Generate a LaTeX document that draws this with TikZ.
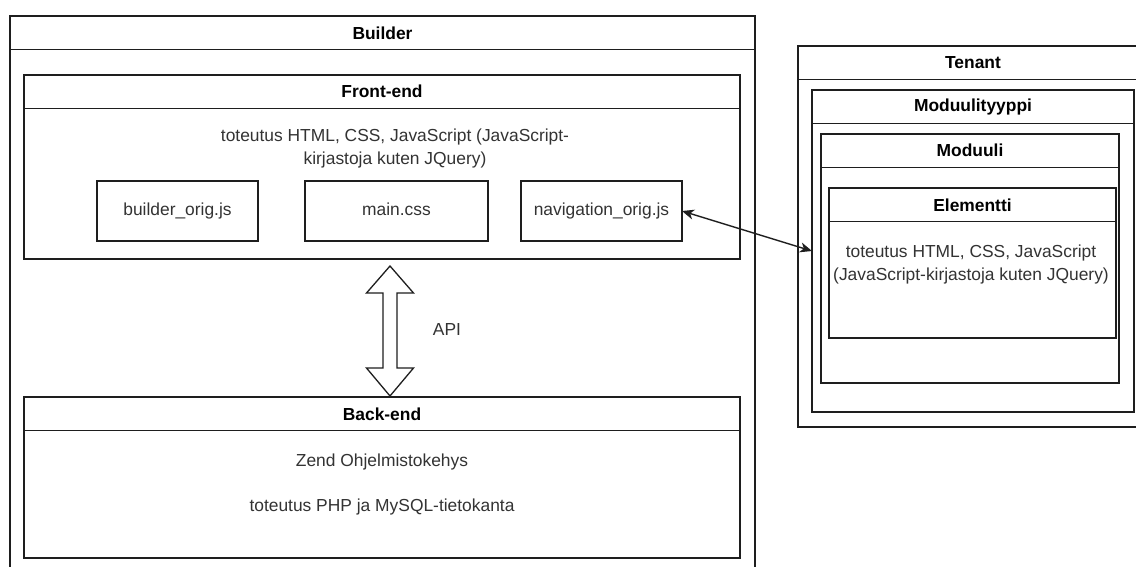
\documentclass[tikz,border=0pt]{standalone}
\usepackage{fontspec}
\setmainfont{Liberation Sans}
\usetikzlibrary{arrows.meta}
\definecolor{linec}{HTML}{1E1E1E}
\definecolor{textc}{HTML}{333333}
\tikzset{
  lane/.style={draw=linec, line width=1.3pt, fill=none, rectangle, inner sep=0pt, outer sep=0pt, anchor=north west},
  filebox/.style={draw=linec, line width=1.3pt, rectangle, inner sep=0pt, outer sep=0pt, anchor=north west, text=textc, font=\fontsize{17.4}{22}\selectfont, text height=12.6pt, text depth=3.8pt},
  lanetitle/.style={font=\fontsize{17.4}{22}\selectfont\bfseries, text=black, inner sep=0pt},
  bodytext/.style={font=\fontsize{17.4}{23}\selectfont, text=textc, align=center, inner sep=0pt},
  sep/.style={draw=linec, line width=1.3pt},
  link/.style={draw=linec, line width=1.4pt, {Stealth[length=12pt,width=10pt,inset=3.5pt]}-{Stealth[length=12pt,width=10pt,inset=3.5pt]}},
  bigarrow/.style={draw=linec, line width=1.3pt, fill=white, line join=miter}
}
\newcommand{\lanesep}[1]{\draw[sep] ([yshift=-33.5pt]#1.north west) -- ([yshift=-33.5pt]#1.north east);}
\begin{document}
\begin{tikzpicture}[x=1pt,y=-1pt]
\useasboundingbox (0,0) rectangle (1136,566);
\clip (0,0) rectangle (1136,566);
\fill[white] (0,0) rectangle (1136,566);

% Builder
\node[lane, minimum width=745pt, minimum height=580pt] (builder) at (10,16) {};
\lanesep{builder}
\node[lanetitle] (builder-t) at ([yshift=-17pt]builder.north) {Builder};

% Front-end
\node[lane, minimum width=716pt, minimum height=184pt] (fe) at (24,75) {};
\lanesep{fe}
\node[lanetitle] (fe-t) at ([yshift=-16.5pt]fe.north) {Front-end};
\node[bodytext] (fe-b) at (395,148.5) {toteutus HTML, CSS, JavaScript (JavaScript-\\kirjastoja kuten JQuery)};

\node[filebox, minimum width=161pt, minimum height=60pt] (bo) at (97,181) {builder\_orig.js};
\node[filebox, minimum width=183pt, minimum height=60pt] (mc) at (305,181) {main.css};
\node[filebox, minimum width=161pt, minimum height=60pt] (nav) at (521,181) {navigation\_orig.js};

% Back-end
\node[lane, minimum width=716pt, minimum height=161pt] (be) at (24,397) {};
\lanesep{be}
\node[lanetitle] (be-t) at ([yshift=-17pt]be.north) {Back-end};
\node[bodytext] (be-b1) at (382,462) {Zend Ohjelmistokehys};
\node[bodytext] (be-b2) at (382,507) {toteutus PHP ja MySQL-tietokanta};

% API double arrow
\draw[bigarrow] (390,266) -- (413.5,293) -- (397,293) -- (397,368) -- (413.5,368) -- (390,396)
  -- (366.5,368) -- (383,368) -- (383,293) -- (366.5,293) -- cycle;
\node[bodytext] (api) at (447,330) {API};

% Tenant
\node[lane, minimum width=350pt, minimum height=381pt] (tenant) at (798,46) {};
\lanesep{tenant}
\node[lanetitle] (tenant-t) at (973,62.5) {Tenant};

\node[lane, minimum width=322pt, minimum height=322pt] (mt) at (812,90) {};
\lanesep{mt}
\node[lanetitle] (mt-t) at ([yshift=-16.5pt]mt.north) {Moduulityyppi};

\node[lane, minimum width=298pt, minimum height=249pt] (mod) at (821,134) {};
\lanesep{mod}
\node[lanetitle] (mod-t) at ([yshift=-16.5pt]mod.north) {Moduuli};

\node[lane, minimum width=287pt, minimum height=150pt] (el) at (829,188) {};
\lanesep{el}
\node[lanetitle] (el-t) at ([yshift=-17pt]el.north) {Elementti};
\node[bodytext] (el-b) at (971,264.5) {toteutus HTML, CSS, JavaScript\\(JavaScript-kirjastoja kuten JQuery)};

% connector
\draw[link] (nav.east) -- (mt.west);
\end{tikzpicture}
\end{document}
